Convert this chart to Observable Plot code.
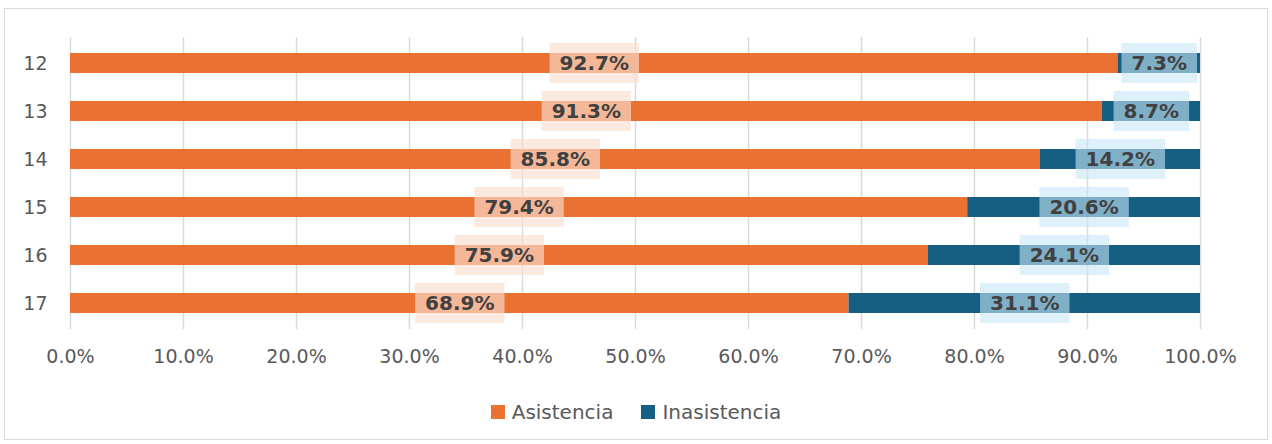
<!DOCTYPE html>
<html><head><meta charset="utf-8">
<script src="https://cdn.jsdelivr.net/npm/d3@7"></script>
<script src="https://cdn.jsdelivr.net/npm/@observablehq/plot@0.6"></script>
<style>
body{margin:0;background:#fff;font-family:"DejaVu Sans",sans-serif;}
#frame{position:absolute;left:4px;top:8px;width:1262px;height:430px;border:1px solid #d9d9d9;background:#fff}
#legend{display:flex;justify-content:center;align-items:center;gap:28px;margin-top:21px;font-size:20px;color:#595959;line-height:24px}
.item{display:flex;align-items:center}
.sw{display:inline-block;width:14px;height:14px;margin-right:7px}
</style></head>
<body>
<div id="frame"><div id="chart"></div><div id="legend"></div></div>
<script>
const rows = ["12", "13", "14", "15", "16", "17"];
const asistencia = [92.7, 91.3, 85.8, 79.4, 75.9, 68.9];
const inasistencia = [7.3, 8.7, 14.2, 20.6, 24.1, 31.1];
const seriesNames = ["Asistencia", "Inasistencia"];
const seriesColors = ["#E97132", "#156082"];
const boxColors = ["rgb(250,221,208)", "rgb(200,230,247)"];
const xTicks = [0, 10, 20, 30, 40, 50, 60, 70, 80, 90, 100];

const data = [];
seriesNames.forEach((s, si) => {
  const vals = si === 0 ? asistencia : inasistencia;
  rows.forEach((r, i) => {
    const start = si === 0 ? 0 : asistencia[i];
    data.push({row: r, series: s, si, value: vals[i], mid: start + vals[i] / 2});
  });
});

const plot = Plot.plot({
  width: 1262,
  height: 370,
  marginLeft: 65,
  marginRight: 67,
  marginTop: 28,
  marginBottom: 50,
  style: {fontFamily: "DejaVu Sans, sans-serif", background: "transparent"},
  x: {domain: [0, 100]},
  y: {domain: rows, paddingInner: 0.59, paddingOuter: 0.295},
  color: {domain: seriesNames, range: seriesColors},
  marks: [
    Plot.ruleX(xTicks, {stroke: "#d9d9d9", strokeWidth: 1.5}),
    Plot.barX(data, {y: "row", x: "value", fill: "series", order: seriesNames}),
    Plot.text(data, {
      y: "row", x: "mid", text: d => d.value.toFixed(1) + "%",
      fill: "#404040", fontSize: 20, fontWeight: "bold"
    }),
    Plot.axisX({ticks: xTicks, tickFormat: d => d.toFixed(1) + "%", tickSize: 0, tickPadding: 20, fontSize: 19, fill: "#595959", label: null}),
    Plot.axisY({tickSize: 0, tickPadding: 23, fontSize: 19, fill: "#595959", label: null})
  ]
});
document.getElementById("chart").append(plot);

// label background boxes
const lg = plot.querySelector('g[aria-label="text"]');
if (lg) {
  const texts = Array.from(lg.querySelectorAll("text"));
  const ns = "http://www.w3.org/2000/svg";
  const boxG = document.createElementNS(ns, "g");
  const gtr = lg.getAttribute("transform");
  if (gtr) boxG.setAttribute("transform", gtr);
  texts.forEach((t, i) => {
    const b = t.getBBox();
    const d = data[i];
    const cy = b.y + b.height / 2;
    const r = document.createElementNS(ns, "rect");
    r.setAttribute("x", b.x - 10);
    r.setAttribute("width", b.width + 20);
    r.setAttribute("y", cy - 20);
    r.setAttribute("height", 40);
    r.setAttribute("fill", boxColors[d.si]);
    r.setAttribute("fill-opacity", d.si === 0 ? 0.65 : 0.6);
    const tr = t.getAttribute("transform");
    if (tr) r.setAttribute("transform", tr);
    boxG.appendChild(r);
  });
  lg.parentNode.insertBefore(boxG, lg);
}

const legend = document.getElementById("legend");
seriesNames.forEach((s, i) => {
  const it = document.createElement("span");
  it.className = "item";
  it.innerHTML = `<span class="sw" style="background:${seriesColors[i]}"></span>${s}`;
  legend.append(it);
});
</script>
</body></html>
